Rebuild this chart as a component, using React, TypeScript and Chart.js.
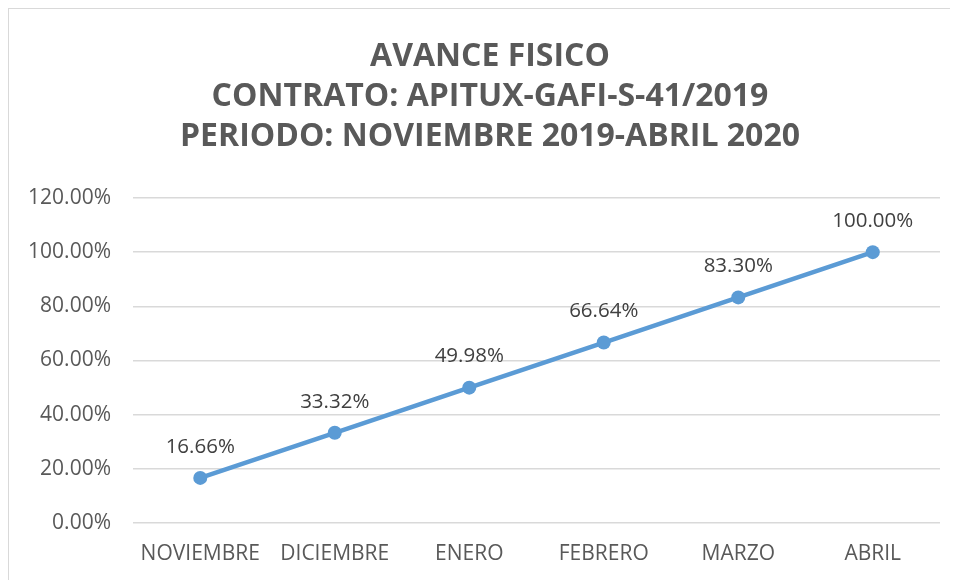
import React, { useEffect, useRef } from "react";
import { Chart, registerables } from "chart.js";

Chart.register(...registerables);

const categories = ["NOVIEMBRE", "DICIEMBRE", "ENERO", "FEBRERO", "MARZO", "ABRIL"];
const avance = [0.1666, 0.3332, 0.4998, 0.6664, 0.833, 1.0];
const titleLines = [
  "AVANCE FISICO",
  "CONTRATO: APITUX-GAFI-S-41/2019",
  "PERIODO: NOVIEMBRE 2019-ABRIL 2020",
];

const FONT = "'Open Sans', 'Liberation Sans', sans-serif";

const labelPlugin = {
  id: "pointLabels",
  afterDatasetsDraw(chart: any) {
    const ctx = chart.ctx;
    const meta = chart.getDatasetMeta(0);
    ctx.save();
    ctx.font = `20.5px ${FONT}`;
    ctx.fillStyle = "#404040";
    ctx.textAlign = "center";
    ctx.textBaseline = "middle";
    meta.data.forEach((pt: any, i: number) => {
      const v = chart.data.datasets[0].data[i] as number;
      ctx.fillText((v * 100).toFixed(2) + "%", pt.x, pt.y - 31);
    });
    ctx.restore();
  },
};

export default function App() {
  const ref = useRef<HTMLCanvasElement>(null);
  useEffect(() => {
    if (!ref.current) return;
    const chart = new Chart(ref.current, {
      type: "line",
      data: {
        labels: categories,
        datasets: [
          {
            data: avance,
            borderColor: "#5B9BD5",
            backgroundColor: "#5B9BD5",
            borderWidth: 4.5,
            pointRadius: 7,
            pointHoverRadius: 7,
            pointBackgroundColor: "#5B9BD5",
            pointBorderColor: "#5B9BD5",
            pointBorderWidth: 0,
            tension: 0,
          },
        ],
      },
      options: {
        animation: false,
        responsive: false,
        maintainAspectRatio: false,
        layout: { padding: 0 },
        plugins: {
          legend: { display: false },
          tooltip: { enabled: false },
          title: {
            display: true,
            text: titleLines,
            color: "#595959",
            font: { family: FONT, size: 32, weight: "bold", lineHeight: "40px" as any },
            padding: { top: 28, bottom: 41 },
          },
        },
        scales: {
          x: {
            offset: true,
            grid: { display: false, drawTicks: false },
            border: { display: false },
            ticks: {
              color: "#595959",
              font: { family: FONT, size: 21 },
              padding: 18,
              maxRotation: 0,
              autoSkip: false,
            },
            afterFit(scale: any) {
              scale.height = 58;
            },
          },
          y: {
            min: 0,
            max: 1.2,
            grid: { color: "#d9d9d9", lineWidth: 1.5, drawTicks: false },
            border: { display: false },
            ticks: {
              stepSize: 0.2,
              color: "#595959",
              font: { family: FONT, size: 21 },
              padding: 22,
              callback: (v: any) => (Number(v) * 100).toFixed(2) + "%",
            },
            afterFit(scale: any) {
              scale.width = 124;
            },
          },
          ySpacer: {
            position: "right",
            min: 0,
            max: 1.2,
            grid: { display: false, drawTicks: false },
            border: { display: false },
            ticks: { display: false },
            afterFit(scale: any) {
              scale.width = 31;
            },
          },
        },
      },
      plugins: [labelPlugin],
    });
    return () => chart.destroy();
  }, []);

  return (
    <div
      style={{
        width: 950,
        height: 573,
        overflow: "hidden",
        borderLeft: "2px solid #d9d9d9",
        borderTop: "2px solid #d9d9d9",
        boxSizing: "border-box",
        background: "#fff",
        position: "relative",
        marginLeft: -1,
        marginTop: -1,
      }}
    >
      <canvas ref={ref} width={962} height={572} style={{ display: "block" }} />
    </div>
  );
}
